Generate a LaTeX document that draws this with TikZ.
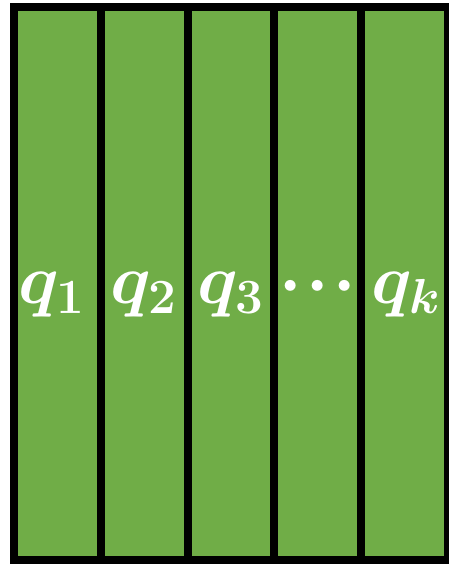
\RequirePackage{fix-cm}
\documentclass[tikz,border=0pt]{standalone}
\usepackage{amsmath,amssymb}
\usetikzlibrary{positioning}
\definecolor{cellgreen}{RGB}{112,173,71}

\begin{document}
\begin{tikzpicture}[x=0.02cm, y=-0.02cm, every node/.style={align=center, text=white, anchor=base, font=\fontsize{40}{44}\selectfont}]
  \useasboundingbox (0,0) rectangle (449,564);
  \draw[fill=cellgreen, line width=0.16cm] (14,7) rectangle (448,560);
  \foreach \x in {100.8,187.6,274.4,361.2}
    \draw[line width=0.16cm] (\x,7) -- (\x,560);
  \node (q1) at (52,303) {$\boldsymbol{q_1}$};
  \node (q2) at (144.2,303) {$\boldsymbol{q_2}$};
  \node (q3) at (231,303) {$\boldsymbol{q_3}$};
  \node (dots) at (317.8,303) {$\boldsymbol{{\cdot}\mkern1mu{\cdot}\mkern1mu{\cdot}}$};
  \node (qk) at (406,303) {$\boldsymbol{q_k}$};
\end{tikzpicture}
\end{document}
